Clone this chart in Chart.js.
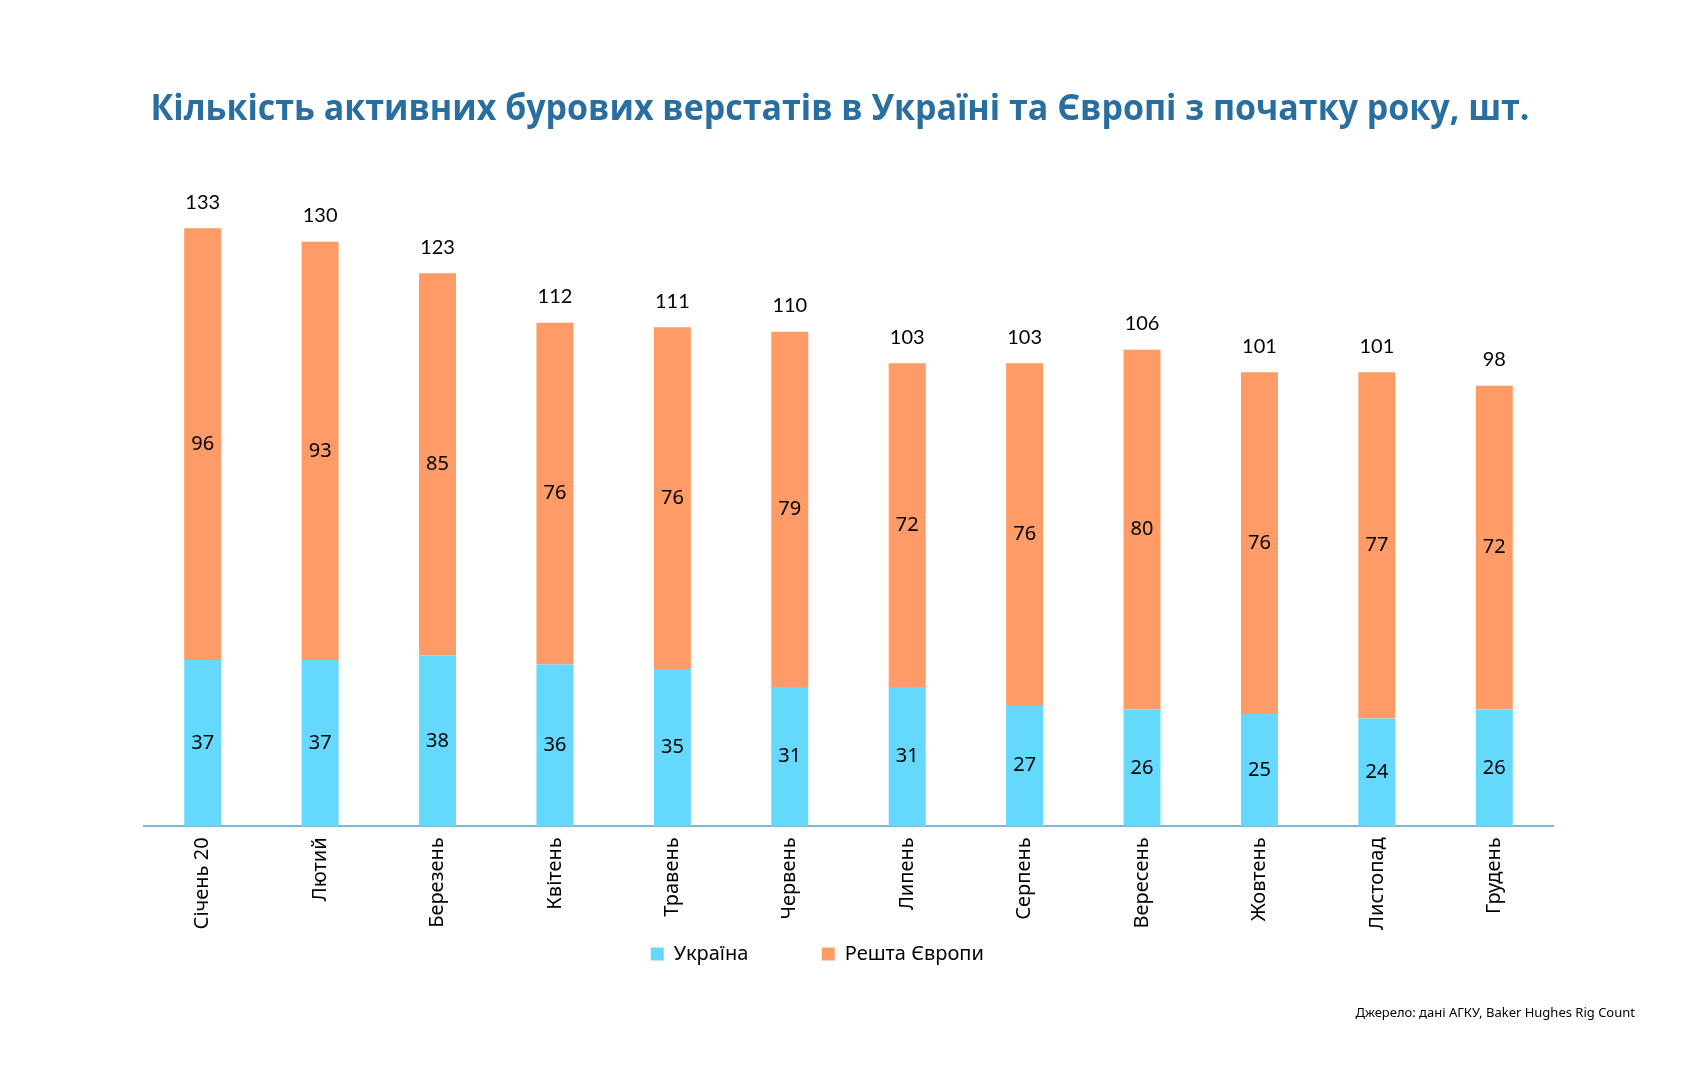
<!DOCTYPE html>
<html>
<head>
<meta charset="utf-8">
<script src="https://cdn.jsdelivr.net/npm/chart.js@4"></script>
<style>
  html, body { margin: 0; padding: 0; background: #fff; }
</style>
</head>
<body>
<canvas id="bar" width="1684" height="1080"></canvas>
<script>
const months = ['Січень 20', 'Лютий', 'Березень', 'Квітень', 'Травень', 'Червень',
  'Липень', 'Серпень', 'Вересень', 'Жовтень', 'Листопад', 'Грудень'];
const ukraine = [37, 37, 38, 36, 35, 31, 31, 27, 26, 25, 24, 26];
const restEurope = [96, 93, 85, 76, 76, 79, 72, 76, 80, 76, 77, 72];
const totals = [133, 130, 123, 112, 111, 110, 103, 103, 106, 101, 101, 98];

const titleText = 'Кількість активних бурових верстатів в Україні та Європі з початку року, шт.';
const sourceText = 'Джерело: дані АГКУ, Baker Hughes Rig Count';

// title, labels inside the bars, totals on top, source line
const barLabels = {
  id: 'barLabels',
  afterDatasetsDraw(chart) {
    const ctx = chart.ctx;
    ctx.save();
    ctx.textAlign = 'center';
    ctx.textBaseline = 'middle';

    ctx.fillStyle = 'rgb(40, 110, 160)';
    ctx.font = 'bold 36px "Open Sans"';
    ctx.fillText(titleText, 840, 110, 1379);

    ctx.fillStyle = '#000';
    ctx.font = '20px "Noto Sans"';
    chart.data.datasets.forEach((ds, i) => {
      chart.getDatasetMeta(i).data.forEach((bar, j) => {
        ctx.fillText(ds.data[j], bar.x, (bar.y + bar.base) / 2);
      });
    });
    ctx.font = '20px Lato';
    const top = chart.getDatasetMeta(chart.data.datasets.length - 1).data;
    top.forEach((bar, j) => {
      ctx.fillText(totals[j], bar.x, bar.y - 26);
    });
    ctx.font = '13px "Noto Sans"';
    ctx.textAlign = 'right';
    ctx.fillText(sourceText, chart.width - 49, 1013);
    ctx.restore();
  }
};

new Chart(document.getElementById('bar').getContext('2d'), {
  type: 'bar',
  data: {
    labels: months,
    datasets: [{
      label: 'Україна',
      data: ukraine,
      backgroundColor: 'rgb(100, 217, 253)'
    }, {
      label: 'Решта Європи',
      data: restEurope,
      backgroundColor: 'rgb(255, 155, 102)'
    }]
  },
  options: {
    responsive: false,
    animation: false,
    barPercentage: 0.315,
    categoryPercentage: 1,
    layout: { padding: { left: 144, right: 131, top: 172, bottom: 106 } },
    scales: {
      x: {
        stacked: true,
        grid: { display: false },
        border: { color: '#7fb5d5', width: 2 },
        ticks: {
          color: '#000',
          font: { family: '"Noto Sans"', size: 20 },
          minRotation: 90,
          maxRotation: 90,
          padding: 3
        }
      },
      y: {
        stacked: true,
        display: false,
        min: 0,
        max: 145.5
      }
    },
    plugins: {
      title: { display: false },
      legend: {
        position: 'bottom',
        labels: {
          color: '#000',
          font: { family: '"Noto Sans"', size: 20 },
          boxWidth: 13,
          boxHeight: 13,
          padding: 11,
          // trailing spaces only widen the gap between the two items
          generateLabels(chart) {
            const items = Chart.defaults.plugins.legend.labels.generateLabels(chart);
            items.forEach(it => { it.text = it.text + ' '.repeat(12); });
            return items;
          }
        }
      },
      tooltip: { enabled: false }
    }
  },
  plugins: [barLabels]
});
</script>
</body>
</html>
